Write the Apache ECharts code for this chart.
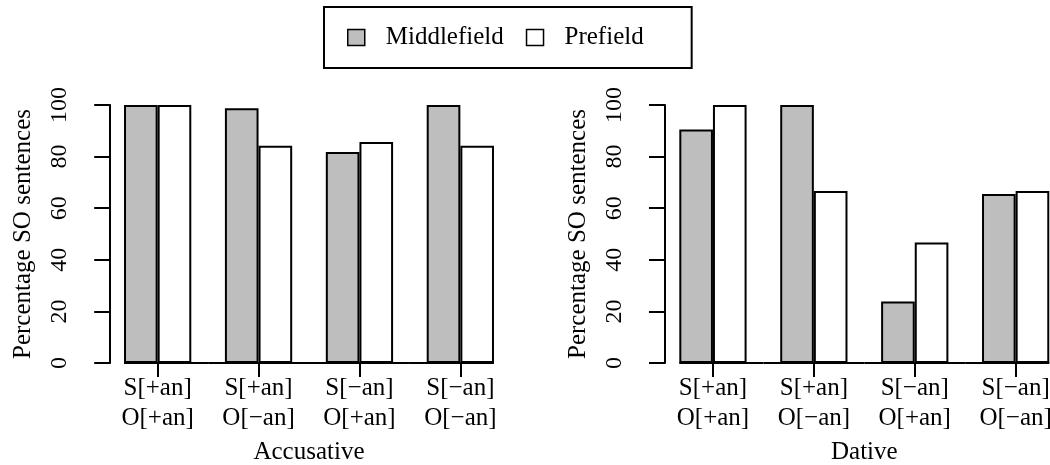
<!DOCTYPE html>
<html>
<head>
<meta charset="utf-8">
<script src="https://cdn.jsdelivr.net/npm/echarts@6/dist/echarts.min.js"></script>
<style>
html,body{margin:0;padding:0;background:#fff;}
#chart{width:1050px;height:465px;}
</style>
</head>
<body>
<div id="chart"></div>
<script>
const categories = ['S[+an]\nO[+an]', 'S[+an]\nO[\u2212an]', 'S[\u2212an]\nO[+an]', 'S[\u2212an]\nO[\u2212an]'];
const seriesNames = ['Middlefield', 'Prefield'];
const panelTitles = ['Accusative', 'Dative'];
const accMiddlefield = [100, 98.7, 81.8, 100];
const accPrefield = [100, 84.2, 85.7, 84.2];
const datMiddlefield = [90.5, 100, 23.8, 65.5];
const datPrefield = [100, 66.7, 46.7, 66.7];
const yMin = 0, yMax = 100, yStep = 20;

const FONT = 'Liberation Serif';
const FS = 25;
const FS_TICK = 24;
const colors = ['#bebebe', '#ffffff'];
const LW = 2;

function xAxisFor(i) {
  return {
    type: 'category', gridIndex: i, data: categories,
    boundaryGap: true,
    axisLine: {show: false},
    axisTick: {show: true, alignWithLabel: true, length: 14, lineStyle: {color: '#000', width: LW}},
    axisLabel: {fontFamily: FONT, fontSize: FS, color: '#000', lineHeight: 30, margin: 10.5, interval: 0},
    name: panelTitles[i], nameLocation: 'middle', nameGap: 77.5,
    nameTextStyle: {fontFamily: FONT, fontSize: FS, color: '#000', lineHeight: 24},
    splitLine: {show: false}
  };
}
function yAxisFor(i, off) {
  return {
    type: 'value', gridIndex: i, min: yMin, max: yMax, interval: yStep, offset: off,
    axisLine: {show: true, lineStyle: {color: '#000', width: LW}},
    axisTick: {show: true, length: 16, lineStyle: {color: '#000', width: LW}},
    axisLabel: {rotate: 90, fontFamily: FONT, fontSize: FS_TICK, color: '#000', margin: 38},
    splitLine: {show: false},
    name: 'Percentage SO sentences', nameLocation: 'middle', nameGap: 74,
    nameTextStyle: {fontFamily: FONT, fontSize: FS, color: '#000'}
  };
}
function barSeries(name, data, i, c) {
  return {
    type: 'bar', name: name, data: data, xAxisIndex: i, yAxisIndex: i,
    barGap: '0%', barCategoryGap: '33.333%',
    itemStyle: {color: c, borderColor: '#000', borderWidth: LW},
    emphasis: {disabled: true}, animation: false
  };
}
function baseline(i) {
  return {
    type: 'custom', xAxisIndex: i, yAxisIndex: i, z: 5, silent: true, clip: false,
    data: categories.map((_, k) => [k, 0]),
    encode: {x: 0, y: 1},
    renderItem: function (params, api) {
      const k = api.value(0);
      const c = api.coord([k, 0]);
      const band = api.size([1, 0])[0];
      const n = categories.length;
      const x0 = c[0] - (k === 0 ? band / 3 : band / 2);
      const x1 = c[0] + (k === n - 1 ? band / 3 : band / 2);
      return {type: 'line', shape: {x1: x0, y1: c[1], x2: x1, y2: c[1]}, style: {stroke: '#000', lineWidth: LW}};
    },
    animation: false
  };
}

const chart = echarts.init(document.getElementById('chart'), null, {renderer: 'canvas'});
chart.setOption({
  backgroundColor: '#fff',
  animation: false,
  legend: {
    left: 324, top: 7,
    data: seriesNames.map((n, k) => ({name: n, itemStyle: {color: colors[k], borderColor: '#000', borderWidth: 1.5}})),
    icon: 'rect', itemWidth: 17, itemHeight: 16, itemGap: 22,
    padding: [18, 48, 18, 23],
    borderColor: '#000', borderWidth: 2, backgroundColor: '#fff',
    textStyle: {fontFamily: FONT, fontSize: FS, color: '#000', padding: [0, 0, 0, 16], lineHeight: 24},
    selectedMode: false
  },
  grid: [
    {left: 107.2, top: 105, width: 403.6, height: 258, outerBoundsMode: 'none', containLabel: false},
    {left: 662.5, top: 105, width: 403.6, height: 258, outerBoundsMode: 'none', containLabel: false}
  ],
  xAxis: [xAxisFor(0), xAxisFor(1)],
  yAxis: [yAxisFor(0, -3), yAxisFor(1, -2.5)],
  series: [
    barSeries(seriesNames[0], accMiddlefield, 0, colors[0]),
    barSeries(seriesNames[1], accPrefield, 0, colors[1]),
    barSeries(seriesNames[0], datMiddlefield, 1, colors[0]),
    barSeries(seriesNames[1], datPrefield, 1, colors[1]),
    baseline(0), baseline(1)
  ]
});
</script>
</body>
</html>
